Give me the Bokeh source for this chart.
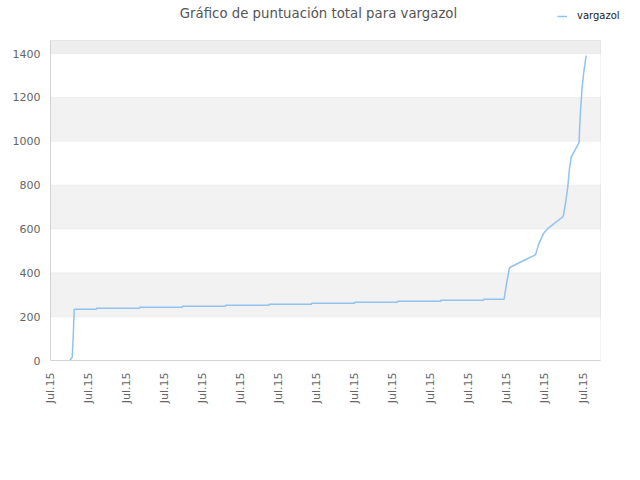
import math
from bokeh.plotting import figure
from bokeh.models import (FixedTicker, Range1d, Label, Legend, LegendItem,
                          BoxAnnotation)
from bokeh.embed import file_html
from bokeh.resources import INLINE

# ---- data ----
title_text = "Gráfico de puntuación total para vargazol"
series_name = "vargazol"
tick_positions = list(range(15))
tick_labels = ["Jul.15"] * 15
y_ticks = [0, 200, 400, 600, 800, 1000, 1200, 1400]
y_max = 1460
x_max = 14.46

days = [0.507, 0.570, 0.597, 0.623,
        1.201, 1.211, 2.340, 2.350, 3.462, 3.472, 4.600, 4.610,
        5.739, 5.749, 6.861, 6.871, 7.992, 8.002, 9.114, 9.124,
        10.252, 10.262, 11.383, 11.393,
        11.927, 11.988, 12.066, 12.400, 12.750, 12.837, 12.968, 13.057,
        13.478, 13.538, 13.599, 13.643, 13.688,
        13.898, 13.914, 13.940, 13.977, 14.020, 14.082]
scores = [0, 15, 106, 234,
          234, 238, 238, 243, 243, 248, 248, 252,
          252, 257, 257, 261, 261, 266, 266, 270,
          270, 275, 275, 280,
          280, 350, 423, 453, 482, 532, 581, 599,
          657, 714, 790, 874, 927,
          995, 1071, 1155, 1246, 1315, 1391]

FONT = "DejaVu Sans"
PLOT_W, PLOT_H = 550, 320   # visible plot-area size in px
HEAD_H, RIGHT_W = 40, 32    # header height / right strip (legend room) in px

p = figure(width=632, height=472, output_backend="svg", toolbar_location=None,
           x_range=Range1d(0, x_max * (PLOT_W + RIGHT_W) / PLOT_W),
           y_range=Range1d(0, y_max * (PLOT_H + HEAD_H) / PLOT_H),
           min_border_left=50, min_border_right=0, min_border_top=0,
           min_border_bottom=112)
p.title.visible = False
p.background_fill_color = "white"
p.border_fill_color = "white"
p.outline_line_color = None
p.xgrid.visible = False
p.ygrid.visible = False

# alternating bands (their edges double as the horizontal grid lines)
band_edges = y_ticks + [y_max]
for i in range(1, len(band_edges) - 1, 2):
    p.add_layout(BoxAnnotation(left=0, right=x_max,
                               bottom=band_edges[i], top=band_edges[i + 1],
                               fill_color="#eeeeee" if band_edges[i + 1] == y_max else "#f2f2f2",
                               fill_alpha=1.0, line_color="#dcdcdc",
                               line_width=1, level="underlay"))
# plot-area border (top/right); left/bottom come from the axis lines
p.add_layout(BoxAnnotation(left=0, right=x_max, bottom=0, top=y_max,
                           fill_alpha=0, line_color="#d4d4d4", line_width=1,
                           level="underlay"))

# axes
p.xaxis.ticker = FixedTicker(ticks=tick_positions)
p.xaxis.major_label_overrides = {t: l for t, l in zip(tick_positions, tick_labels)}
p.xaxis.major_label_orientation = math.pi / 2
p.xaxis.major_label_standoff = 12
p.xaxis.bounds = (0, x_max)
p.yaxis.ticker = FixedTicker(ticks=y_ticks)
p.yaxis.major_label_standoff = 10
p.yaxis.bounds = (0, y_max)
for ax in (p.xaxis, p.yaxis):
    ax.axis_line_color = "#d4d4d4"
    ax.axis_line_width = 1
    ax.major_tick_line_color = None
    ax.minor_tick_line_color = None
    ax.major_tick_out = 0
    ax.major_tick_in = 0
    ax.major_label_text_font = FONT
    ax.major_label_text_font_size = "11px"
    ax.major_label_text_color = "#666666"

line = p.line(days, scores, line_color="#90c2f2", line_width=1.5)

legend = Legend(items=[LegendItem(label=series_name, renderers=[line])],
                location=(507, 339), padding=0, margin=0, glyph_width=10,
                glyph_height=10, label_standoff=10, border_line_color=None,
                background_fill_alpha=0, label_text_font=FONT,
                label_text_font_size="10px", label_text_color="#222222")
p.add_layout(legend, "center")

p.add_layout(Label(x=268, y=347, x_units="screen", y_units="screen",
                   text=title_text, text_align="center", text_baseline="middle",
                   text_font=FONT, text_font_size="13.3px", text_color="#555555"))

open("out.html", "w").write(file_html(p, INLINE))
